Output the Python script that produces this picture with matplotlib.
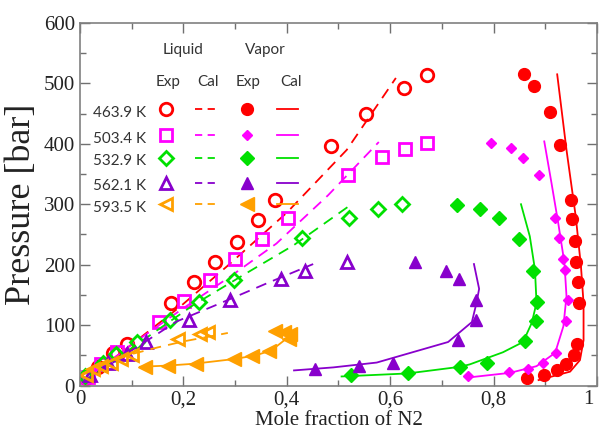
import numpy as np
import matplotlib.pyplot as plt
from matplotlib.ticker import MultipleLocator
from matplotlib.transforms import ScaledTranslation

# Temperaturas de las isotermas
temps = ['463.9 K', '503.4 K', '532.9 K', '562.1 K', '593.5 K']
colores = ['#ff0000', '#ff00ff', '#00e000', '#8800cc', '#ffa000']

# Ticks del eje x con coma decimal
xticks = [0, 0.2, 0.4, 0.6, 0.8, 1.0]
xtick_labels = ['0', '0,2', '0,4', '0,6', '0,8', '1']

# Fase liquida, datos experimentales (x N2, P bar)
liq_x_463 = [0.012, 0.035, 0.063, 0.090, 0.177, 0.221, 0.261, 0.303, 0.344, 0.377, 0.485, 0.553, 0.627, 0.671]
liq_p_463 = [12, 30, 53, 69, 137, 171, 204, 238, 274, 307, 397, 450, 493, 514]
liq_x_503 = [0.015, 0.040, 0.071, 0.153, 0.201, 0.251, 0.300, 0.352, 0.402, 0.518, 0.585, 0.629, 0.671]
liq_p_503 = [14, 35, 56, 105, 140, 174, 210, 242, 278, 348, 378, 392, 402]
liq_x_532 = [0.010, 0.045, 0.070, 0.110, 0.175, 0.230, 0.298, 0.429, 0.520, 0.576, 0.623]
liq_p_532 = [15, 38, 52, 72, 108, 138, 174, 244, 278, 292, 300]
liq_x_562 = [0.020, 0.055, 0.090, 0.128, 0.211, 0.291, 0.389, 0.435, 0.516]
liq_p_562 = [18, 38, 52, 72, 109, 142, 177, 190, 204]
liq_x_593 = [0.012, 0.025, 0.040, 0.060, 0.080, 0.100, 0.190, 0.232, 0.248]
liq_p_593 = [18, 27, 32, 38, 44, 51, 77, 86, 88]

# Fase vapor, datos experimentales
vap_x_463 = [0.865, 0.897, 0.922, 0.940, 0.956, 0.961, 0.965, 0.963, 0.959, 0.957, 0.952, 0.949, 0.928, 0.909, 0.879, 0.859]
vap_p_463 = [13, 18, 25, 36, 50, 69, 137, 171, 205, 240, 275, 307, 398, 452, 495, 515]
vap_x_503 = [0.751, 0.830, 0.867, 0.895, 0.920, 0.940, 0.943, 0.939, 0.935, 0.926, 0.919, 0.888, 0.856, 0.833, 0.795]
vap_p_503 = [15, 22, 27, 37, 54, 106, 141, 191, 210, 244, 278, 348, 377, 393, 401]
vap_x_532 = [0.524, 0.634, 0.735, 0.787, 0.861, 0.882, 0.883, 0.877, 0.849, 0.810, 0.774, 0.730]
vap_p_532 = [17, 21, 31, 38, 73, 107, 138, 190, 243, 278, 292, 298]
vap_x_562 = [0.455, 0.540, 0.605, 0.731, 0.766, 0.766, 0.733, 0.707, 0.648]
vap_p_562 = [28, 33, 38, 75, 109, 142, 176, 190, 204]
vap_x_593 = [0.126, 0.170, 0.224, 0.298, 0.333, 0.365, 0.405, 0.407, 0.395, 0.378]
vap_p_593 = [31, 33, 36, 44, 49, 57, 77, 85, 88, 91]

# Modelo, rama liquida
cal_liq_x_463 = [0.005, 0.100, 0.193, 0.284, 0.400, 0.516, 0.611]
cal_liq_p_463 = [5, 68, 130, 197, 286, 390, 509]
cal_liq_x_503 = [0.005, 0.100, 0.200, 0.290, 0.380, 0.480, 0.578]
cal_liq_p_503 = [5, 68, 128, 180, 235, 315, 403]
cal_liq_x_532 = [0.005, 0.100, 0.219, 0.322, 0.413, 0.527]
cal_liq_p_532 = [5, 62, 133, 186, 232, 301]
cal_liq_x_562 = [0.005, 0.100, 0.187, 0.271, 0.361, 0.451]
cal_liq_p_562 = [5, 58, 106, 136, 169, 201]
cal_liq_x_593 = [0.005, 0.050, 0.100, 0.150, 0.200, 0.250, 0.286]
cal_liq_p_593 = [20, 36, 52, 63, 73, 81, 87]

# Modelo, rama vapor
cal_vap_x_463 = [0.887, 0.948, 0.967, 0.974, 0.974, 0.969, 0.959, 0.941, 0.923]
cal_vap_p_463 = [9, 23, 42, 75, 136, 197, 279, 390, 515]
cal_vap_x_503 = [0.748, 0.832, 0.883, 0.919, 0.935, 0.941, 0.937, 0.925, 0.912, 0.898]
cal_vap_p_503 = [13, 21, 32, 54, 98, 148, 203, 269, 335, 404]
cal_vap_x_532 = [0.506, 0.634, 0.735, 0.754, 0.818, 0.857, 0.874, 0.883, 0.880, 0.870, 0.853]
cal_vap_p_532 = [15, 20, 31, 35, 55, 72, 104, 137, 192, 247, 300]
cal_vap_x_562 = [0.414, 0.490, 0.574, 0.712, 0.758, 0.767, 0.772, 0.762]
cal_vap_p_562 = [25, 30, 38, 72, 105, 137, 160, 201]
cal_vap_x_593 = [0.116, 0.170, 0.220, 0.300, 0.340, 0.370, 0.403]
cal_vap_p_593 = [31, 33, 36, 44, 50, 58, 80]

liq_x = [liq_x_463, liq_x_503, liq_x_532, liq_x_562, liq_x_593]
liq_p = [liq_p_463, liq_p_503, liq_p_532, liq_p_562, liq_p_593]
vap_x = [vap_x_463, vap_x_503, vap_x_532, vap_x_562, vap_x_593]
vap_p = [vap_p_463, vap_p_503, vap_p_532, vap_p_562, vap_p_593]
cl_x = [cal_liq_x_463, cal_liq_x_503, cal_liq_x_532, cal_liq_x_562, cal_liq_x_593]
cl_p = [cal_liq_p_463, cal_liq_p_503, cal_liq_p_532, cal_liq_p_562, cal_liq_p_593]
cv_x = [cal_vap_x_463, cal_vap_x_503, cal_vap_x_532, cal_vap_x_562, cal_vap_x_593]
cv_p = [cal_vap_p_463, cal_vap_p_503, cal_vap_p_532, cal_vap_p_562, cal_vap_p_593]

mk_liq = ['o', 's', 'D', '^', '<']
ms_liq = [9, 9, 7, 9, 9]
mk_vap = ['o', 'D', 'D', '^', '<']
ms_vap = [8.5, 5.5, 7, 9, 10]

fig = plt.figure(figsize=(6, 4.32), dpi=100)
ax = fig.add_axes([0.1333, 0.1076, 0.8617, 0.8392])

for i in range(5):
    c = colores[i]
    ax.plot(cl_x[i], cl_p[i], '--', color=c, lw=1.3, dashes=(6, 4))
    ax.plot(cv_x[i], cv_p[i], '-', color=c, lw=1.3)
    ax.plot(liq_x[i], liq_p[i], mk_liq[i], ms=ms_liq[i], mfc='none', mec=c, mew=2, ls='none')
    ax.plot(vap_x[i], vap_p[i], mk_vap[i], ms=ms_vap[i], color=c, ls='none')

# Leyenda tipo tabla
fl = dict(family='Lato', fontsize=11, color='#333333', transform=ax.transAxes, ha='center', va='center')
ax.text(0.199, 0.925, 'Liquid', **fl)
ax.text(0.358, 0.925, 'Vapor', **fl)
for xc, t in zip([0.170, 0.248, 0.325, 0.408], ['Exp', 'Cal', 'Exp', 'Cal']):
    ax.text(xc, 0.837, t, **fl)
filas = [0.763, 0.691, 0.628, 0.559, 0.501]
for i in range(5):
    c = colores[i]
    yf = filas[i]
    ax.text(0.077, yf - 0.01, temps[i], **fl)
    ax.plot(0.166, yf, mk_liq[i], ms=ms_liq[i], mfc='none', mec=c, mew=2, transform=ax.transAxes)
    ax.plot([0.222, 0.267], [yf, yf], '--', color=c, lw=1.3, dashes=(4, 3), transform=ax.transAxes)
    ax.plot(0.323, yf, mk_vap[i], ms=ms_vap[i], color=c, transform=ax.transAxes)
    ax.plot([0.381, 0.422], [yf, yf], '-', color=c, lw=1.3, transform=ax.transAxes)

ax.set_xlim(0, 1)
ax.set_ylim(0, 600)
ax.set_xticks(xticks, xtick_labels)
ax.xaxis.set_minor_locator(MultipleLocator(0.1))
ax.yaxis.set_major_locator(MultipleLocator(100))
ax.yaxis.set_minor_locator(MultipleLocator(50))
ax.tick_params(which='both', direction='in', top=True, right=True, color='#707070')
ax.tick_params(which='major', length=7, width=1, labelsize=15, labelcolor='#222222')
ax.tick_params(which='minor', length=4, width=1)
for lab in ax.get_xticklabels() + ax.get_yticklabels():
    lab.set_family('Liberation Serif')
# la etiqueta "1" queda pegada al borde derecho: se corre un poco a la izquierda
ultimo = ax.xaxis.get_major_ticks()[-1].label1
ultimo.set_transform(ultimo.get_transform() + ScaledTranslation(-6 / 72, 0, fig.dpi_scale_trans))
for s in ax.spines.values():
    s.set_color('#808080')
    s.set_linewidth(1.2)

ax.set_xlabel('Mole fraction of N2', family='Liberation Serif', fontsize=15, color='#222222', labelpad=1)
ax.set_ylabel('Pressure [bar]', family='Liberation Serif', fontsize=26, color='#222222', labelpad=4)

fig.savefig('out.png', dpi=100)
